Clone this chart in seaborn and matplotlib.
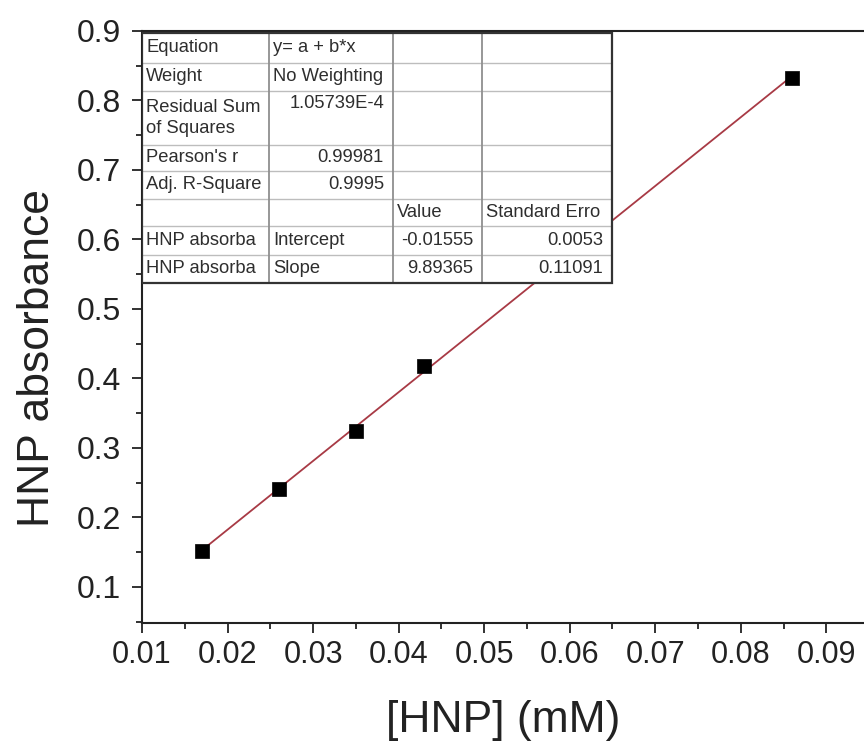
import numpy as np
import pandas as pd
import matplotlib
matplotlib.use("Agg")
import matplotlib.pyplot as plt
import seaborn as sns
from matplotlib.ticker import MultipleLocator, FormatStrFormatter

# ---- data ----
hnp_mM = [0.017, 0.026, 0.035, 0.043, 0.086]
absorbance = [0.151, 0.241, 0.324, 0.418, 0.833]
fit_intercept = -0.01555
fit_slope = 9.89365

table_rows = [
    ["Equation", "y= a + b*x", "", ""],
    ["Weight", "No Weighting", "", ""],
    ["Residual Sum\nof Squares", "1.05739E-4", "", ""],
    ["Pearson's r", "0.99981", "", ""],
    ["Adj. R-Square", "0.9995", "", ""],
    ["", "", "Value", "Standard Erro"],
    ["HNP absorba", "Intercept", "-0.01555", "0.0053"],
    ["HNP absorba", "Slope", "9.89365", "0.11091"],
]

x_ticks = [0.01, 0.02, 0.03, 0.04, 0.05, 0.06, 0.07, 0.08, 0.09]
y_ticks = [0.1, 0.2, 0.3, 0.4, 0.5, 0.6, 0.7, 0.8, 0.9]

df = pd.DataFrame({"x": hnp_mM, "y": absorbance})
fit_x = np.array([min(hnp_mM), max(hnp_mM)])
fit_df = pd.DataFrame({"x": fit_x, "y": fit_intercept + fit_slope * fit_x})

# ---- style ----
sns.set_theme(style="ticks")
plt.rcParams["font.family"] = ["Liberation Sans", "DejaVu Sans"]

W, H = 864, 743
fig = plt.figure(figsize=(W / 100, H / 100), dpi=100)
ax_l, ax_r, ax_b, ax_t = 142, 864, 623, 31
ax = fig.add_axes([ax_l / W, 1 - ax_b / H, (ax_r - ax_l) / W, (ax_b - ax_t) / H])

sns.lineplot(data=fit_df, x="x", y="y", ax=ax, color="#a83a45", linewidth=1.3, zorder=2)
sns.scatterplot(data=df, x="x", y="y", ax=ax, marker="s", s=95, color="black",
                edgecolor="black", linewidth=0.5, zorder=3)

ax.set_xlim(0.01, 0.0944)
ax.set_ylim(0.048, 0.9)
ax.set_xticks(x_ticks)
ax.set_yticks(y_ticks)
ax.xaxis.set_major_formatter(FormatStrFormatter("%.2f"))
ax.yaxis.set_major_formatter(FormatStrFormatter("%.1f"))
ax.xaxis.set_minor_locator(MultipleLocator(0.005))
ax.yaxis.set_minor_locator(MultipleLocator(0.05))
ax.tick_params(which="major", direction="out", length=7, width=1.3,
               pad=5, color="#222222", labelcolor="#222222")
ax.tick_params(axis="x", which="major", labelsize=22)
ax.tick_params(axis="y", which="major", labelsize=23, pad=8)
ax.tick_params(which="minor", direction="out", length=4, width=1.3, color="#222222")

for s in ["left", "bottom", "top"]:
    ax.spines[s].set_linewidth(1.5)
    ax.spines[s].set_color("#222222")
ax.spines["right"].set_visible(False)
ax.grid(False)

ax.set_xlabel("[HNP] (mM)", fontsize=32, labelpad=22, color="#222222")
ax.set_ylabel("HNP absorbance", fontsize=32, color="#222222")
ax.yaxis.set_label_coords(-0.116, 0.448)

# ---- statistics table (drawn in axes fraction coords) ----
row_px = [33, 63, 91, 145, 171, 199, 226, 255, 283]
col_px = [142, 269, 393, 482, 612]
def ya(p):
    return (ax_b - p) / (ax_b - ax_t)
def xa(p):
    return (p - ax_l) / (ax_r - ax_l)

tr = ax.transAxes
ax.add_patch(plt.Rectangle((xa(col_px[0]), ya(row_px[-1])),
                           xa(col_px[-1]) - xa(col_px[0]), ya(row_px[0]) - ya(row_px[-1]),
                           transform=tr, facecolor="white", edgecolor="none", zorder=4))
for p in row_px[1:-1]:
    ax.plot([xa(col_px[0]), xa(col_px[-1])], [ya(p), ya(p)], transform=tr,
            color="#bdbdbd", lw=1.0, zorder=5, solid_capstyle="butt")
for p in col_px[1:-1]:
    ax.plot([xa(p), xa(p)], [ya(row_px[0]), ya(row_px[-1])], transform=tr,
            color="#8f8f8f", lw=1.3, zorder=5, solid_capstyle="butt")
ax.add_patch(plt.Rectangle((xa(col_px[0]), ya(row_px[-1])),
                           xa(col_px[-1]) - xa(col_px[0]), ya(row_px[0]) - ya(row_px[-1]),
                           transform=tr, facecolor="none", edgecolor="#333333", lw=1.6, zorder=6))

left_text = {"Equation", "Weight", "Residual Sum\nof Squares", "Pearson's r", "Adj. R-Square",
             "HNP absorba", "y= a + b*x", "No Weighting", "Intercept", "Slope", "Value",
             "Standard Erro"}
for r, row in enumerate(table_rows):
    top, bot = row_px[r], row_px[r + 1]
    for c, txt in enumerate(row):
        if not txt:
            continue
        if c == 1 and r == 2:
            yc = top + 13
        else:
            yc = (top + bot) / 2
        if txt in left_text:
            x = col_px[c] + 4
            ha = "left"
        else:
            x = col_px[c + 1] - 9
            ha = "right"
        ax.text(xa(x), ya(yc), txt, transform=tr, ha=ha, va="center",
                fontsize=13.2, color="#2e2e2e", zorder=7, linespacing=1.3)

fig.savefig("out.png", dpi=100)
